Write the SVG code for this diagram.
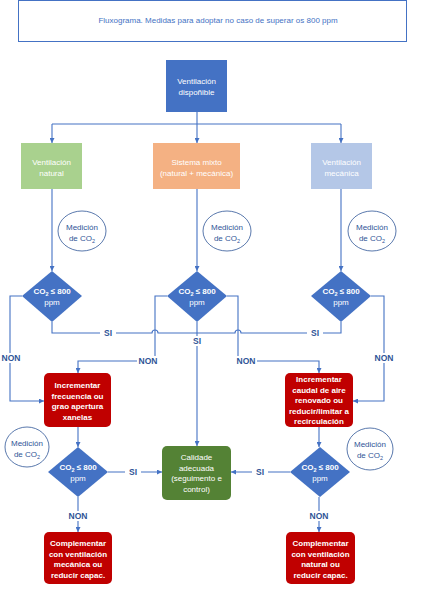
<svg xmlns="http://www.w3.org/2000/svg" width="426" height="592" viewBox="0 0 426 592">
<defs>
<marker id="ah" viewBox="0 0 10 10" refX="10" refY="5" markerWidth="5" markerHeight="5" markerUnits="userSpaceOnUse" orient="auto"><path d="M0,0 L10,5 L0,10 z" fill="#4472C4"/></marker>
<style>
text{font-family:"Liberation Sans",Arial,sans-serif;font-size:8px;text-anchor:middle}
.w{fill:#fff}
.b{fill:#fff;font-weight:bold}
.m{fill:#2F5597;font-size:8px}
.lab{fill:#2F5597;font-weight:bold;font-size:8.5px;dominant-baseline:central}
.ln{fill:none;stroke:#4472C4;stroke-width:1.1}
.ar{fill:none;stroke:#4472C4;stroke-width:1.1;marker-end:url(#ah)}
.ell{fill:#fff;stroke:#2F5597;stroke-width:0.8}
.dia{fill:#4472C4}
.red{fill:#C00000}
</style>
</defs>
<rect width="426" height="592" fill="#fff"/>
<g id="title"><rect x="18.5" y="0.5" width="388" height="41" fill="#fff" stroke="#4472C4" stroke-width="1"/><text x="218" y="23" fill="#4472C4" style="font-size:8px">Fluxograma. Medidas para adoptar no caso de superar os 800 ppm</text></g>
<g id="connectors">
<path class="ln" d="M197,112 V124 M52,124 H341"/>
<path class="ar" d="M52,124 V143"/>
<path class="ar" d="M197,124 V143"/>
<path class="ar" d="M341,124 V143"/>
<path class="ar" d="M52,189 V271"/>
<path class="ar" d="M197,189 V271"/>
<path class="ar" d="M341,189 V271"/>
<path class="ln" d="M52,322 V333 H152 A3,3 0 0 1 158,333 H235 A3,3 0 0 1 241,333 H341 V322"/>
<path class="ar" d="M197,322 V446"/>
<path class="ar" d="M22,296 H10 V401 H44"/>
<path class="ar" d="M371,296 H384 V401 H353"/>
<path class="ar" d="M167,296 H155 V361 H78 V373"/>
<path class="ar" d="M227,296 H238 V361 H319 V373"/>
<path class="ar" d="M78,427 V447"/>
<path class="ar" d="M319,427 V447"/>
<path class="ar" d="M108,472 H162"/>
<path class="ar" d="M290,472 H231"/>
<path class="ar" d="M78,497 V532"/>
<path class="ar" d="M319,497 V532"/>
<g>
<rect x="100" y="328" width="16" height="10" fill="#fff"/><text class="lab" x="108" y="333">SI</text>
<rect x="307" y="328" width="16" height="10" fill="#fff"/><text class="lab" x="315" y="333">SI</text>
<rect x="189" y="336" width="16" height="10" fill="#fff"/><text class="lab" x="197" y="341">SI</text>
<rect x="0" y="353" width="22" height="10" fill="#fff"/><text class="lab" x="11" y="358">NON</text>
<rect x="373" y="353" width="22" height="10" fill="#fff"/><text class="lab" x="384" y="358">NON</text>
<rect x="137" y="356" width="22" height="10" fill="#fff"/><text class="lab" x="148" y="361">NON</text>
<rect x="235" y="356" width="22" height="10" fill="#fff"/><text class="lab" x="246" y="361">NON</text>
<rect x="125" y="467" width="16" height="10" fill="#fff"/><text class="lab" x="133" y="472">SI</text>
<rect x="252" y="467" width="16" height="10" fill="#fff"/><text class="lab" x="260" y="472">SI</text>
<rect x="67" y="511" width="22" height="10" fill="#fff"/><text class="lab" x="78" y="516">NON</text>
<rect x="308" y="511" width="22" height="10" fill="#fff"/><text class="lab" x="319" y="516">NON</text>
</g>
</g>
<g id="n-disponible"><rect x="166" y="60" width="61" height="52" fill="#4472C4"/><text class="w" x="196.5" y="84">Ventilación</text><text class="w" x="196.5" y="95">dispoñible</text></g>
<g id="n-natural"><rect x="21" y="143" width="61" height="46" fill="#A9D18E"/><text class="w" x="51.5" y="165">Ventilación</text><text class="w" x="51.5" y="176">natural</text></g>
<g id="n-mixto"><rect x="153" y="143" width="87" height="46" fill="#F4B183"/><text class="w" x="196.5" y="165">Sistema mixto</text><text class="w" x="196.5" y="176">(natural + mecánica)</text></g>
<g id="n-mecanica"><rect x="311" y="143" width="61" height="46" fill="#B4C7E7"/><text class="w" x="341.5" y="165">Ventilación</text><text class="w" x="341.5" y="176">mecánica</text></g>
<g id="e1"><ellipse class="ell" cx="82" cy="231" rx="24" ry="20"/><text class="m" x="82" y="230">Medición</text><text class="m" x="82" y="241">de CO<tspan font-size="5.5" dy="2">2</tspan></text></g>
<g id="e2"><ellipse class="ell" cx="227" cy="231" rx="24" ry="20"/><text class="m" x="227" y="230">Medición</text><text class="m" x="227" y="241">de CO<tspan font-size="5.5" dy="2">2</tspan></text></g>
<g id="e3"><ellipse class="ell" cx="372" cy="231" rx="24" ry="20"/><text class="m" x="372" y="230">Medición</text><text class="m" x="372" y="241">de CO<tspan font-size="5.5" dy="2">2</tspan></text></g>
<g id="d1"><path class="dia" d="M52,271 L82,296 L52,322 L22,296 z"/><text class="b" x="52" y="294">CO<tspan font-size="5.5" dy="2">2</tspan><tspan dy="-2"> ≤ 800</tspan></text><text class="w" x="52" y="305">ppm</text></g>
<g id="d2"><path class="dia" d="M197,271 L227,296 L197,322 L167,296 z"/><text class="b" x="197" y="294">CO<tspan font-size="5.5" dy="2">2</tspan><tspan dy="-2"> ≤ 800</tspan></text><text class="w" x="197" y="305">ppm</text></g>
<g id="d3"><path class="dia" d="M341,271 L371,296 L341,322 L311,296 z"/><text class="b" x="341" y="294">CO<tspan font-size="5.5" dy="2">2</tspan><tspan dy="-2"> ≤ 800</tspan></text><text class="w" x="341" y="305">ppm</text></g>
<g id="r1"><rect class="red" x="44" y="373" width="67" height="54" rx="5"/><text class="b" x="77.5" y="388">Incrementar</text><text class="b" x="77.5" y="398.5">frecuencia ou</text><text class="b" x="77.5" y="409">grao apertura</text><text class="b" x="77.5" y="419.5">xanelas</text></g>
<g id="r2"><rect class="red" x="285" y="373" width="68" height="54" rx="5"/><text class="b" x="319" y="382">Incrementar</text><text class="b" x="319" y="392.5">caudal de aire</text><text class="b" x="319" y="403">renovado ou</text><text class="b" x="319" y="413.5">reducir/limitar a</text><text class="b" x="319" y="424">recirculación</text></g>
<g id="e4"><ellipse class="ell" cx="27" cy="447" rx="22" ry="20"/><text class="m" x="27" y="446">Medición</text><text class="m" x="27" y="457">de CO<tspan font-size="5.5" dy="2">2</tspan></text></g>
<g id="e5"><ellipse class="ell" cx="370" cy="449" rx="23" ry="21"/><text class="m" x="370" y="447">Medición</text><text class="m" x="370" y="458">de CO<tspan font-size="5.5" dy="2">2</tspan></text></g>
<g id="d4"><path class="dia" d="M78,447 L108,472 L78,497 L48,472 z"/><text class="b" x="78" y="470">CO<tspan font-size="5.5" dy="2">2</tspan><tspan dy="-2"> ≤ 800</tspan></text><text class="w" x="78" y="481">ppm</text></g>
<g id="d5"><path class="dia" d="M320,447 L350,472 L320,497 L290,472 z"/><text class="b" x="320" y="470">CO<tspan font-size="5.5" dy="2">2</tspan><tspan dy="-2"> ≤ 800</tspan></text><text class="w" x="320" y="481">ppm</text></g>
<g id="calidade"><rect x="162" y="446" width="69" height="54" rx="5" fill="#548235"/><text class="w" x="196.5" y="460">Calidade</text><text class="w" x="196.5" y="470.5">adecuada</text><text class="w" x="196.5" y="481">(seguimento e</text><text class="w" x="196.5" y="491.5">control)</text></g>
<g id="c1"><rect class="red" x="44" y="532" width="68" height="52" rx="5"/><text class="b" x="78" y="546">Complementar</text><text class="b" x="78" y="556.5">con ventilación</text><text class="b" x="78" y="567">mecánica ou</text><text class="b" x="78" y="577.5">reducir capac.</text></g>
<g id="c2"><rect class="red" x="286" y="532" width="69" height="52" rx="5"/><text class="b" x="320.5" y="546">Complementar</text><text class="b" x="320.5" y="556.5">con ventilación</text><text class="b" x="320.5" y="567">natural ou</text><text class="b" x="320.5" y="577.5">reducir capac.</text></g>
</svg>
